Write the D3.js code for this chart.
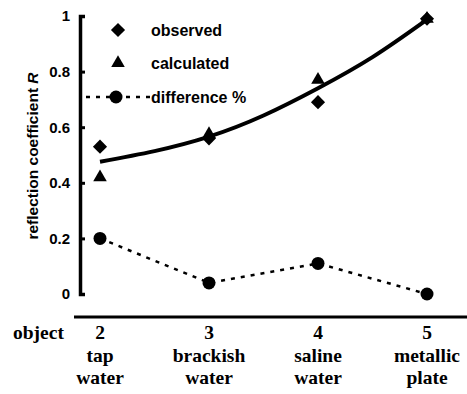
<!DOCTYPE html>
<html>
<head>
<meta charset="utf-8">
<script src="https://cdn.jsdelivr.net/npm/d3@7"></script>
<style>
  html, body { margin: 0; padding: 0; background: #fff; }
  svg { display: block; }
</style>
</head>
<body>
<svg id="chart" width="467" height="394"></svg>
<script>
// ---- data ----
const objects = [2, 3, 4, 5];
const nameLine1 = ["tap", "brackish", "saline", "metallic"];
const nameLine2 = ["water", "water", "water", "plate"];
const observed = [0.53, 0.56, 0.69, 0.99];
const calculated = [0.42, 0.575, 0.77, 0.99];
const difference = [0.20, 0.04, 0.11, 0.00];
const fitX = [2, 2.5, 3, 3.5, 4, 4.5, 5];
const fitY = [0.476, 0.514, 0.566, 0.642, 0.740, 0.852, 0.987];
const yTicks = [0, 0.2, 0.4, 0.6, 0.8, 1];
const yTickLabels = ["0", "0.2", "0.4", "0.6", "0.8", "1"];
const legendLabels = ["observed", "calculated", "difference %"];

// ---- setup ----
const svg = d3.select("#chart");
const sans = "'Liberation Sans', Arial, Helvetica, sans-serif";
const serif = "'Liberation Serif', 'Times New Roman', serif";

const x = d3.scaleLinear().domain([2, 5]).range([100, 427]);
const y = d3.scaleLinear().domain([0, 1]).range([294, 16]);
const axisX = 80;

// y axis
const yAxis = d3.axisLeft(y)
  .tickValues(yTicks)
  .tickFormat((d, i) => yTickLabels[i])
  .tickSize(-5)
  .tickSizeOuter(-5)
  .tickPadding(10);
const gY = svg.append("g").attr("transform", `translate(${axisX},0)`).call(yAxis);
gY.select(".domain").attr("stroke", "#000").attr("stroke-width", 3.5).attr("fill", "none");
gY.selectAll(".tick line").attr("stroke", "#000").attr("stroke-width", 3);
gY.selectAll(".tick text")
  .attr("font-family", sans).attr("font-weight", "bold").attr("font-size", 15)
  .attr("fill", "#000");

// y axis label
const yl = svg.append("text")
  .attr("transform", `translate(38,156) rotate(-90)`)
  .attr("text-anchor", "middle")
  .attr("font-family", sans).attr("font-weight", "bold").attr("font-size", 15.5)
  .attr("fill", "#000");
yl.append("tspan").text("reflection coefficient ");
yl.append("tspan").attr("font-style", "italic").text("R");

// bottom rule
svg.append("line")
  .attr("x1", 74).attr("x2", 467).attr("y1", 317).attr("y2", 317)
  .attr("stroke", "#000").attr("stroke-width", 3);

// bottom labels
svg.append("text").attr("x", 13).attr("y", 339)
  .attr("font-family", serif).attr("font-weight", "bold").attr("font-size", 19.5)
  .text("object");
const bl = svg.append("g").attr("font-family", serif).attr("font-weight", "bold")
  .attr("font-size", 19.5).attr("text-anchor", "middle").attr("fill", "#000");
bl.selectAll("text.num").data(objects).join("text").attr("class", "num")
  .attr("x", d => x(d)).attr("y", 339).text(d => d);
bl.selectAll("text.n1").data(objects).join("text").attr("class", "n1")
  .attr("x", d => x(d)).attr("y", 362).text((d, i) => nameLine1[i]);
bl.selectAll("text.n2").data(objects).join("text").attr("class", "n2")
  .attr("x", d => x(d)).attr("y", 384).text((d, i) => nameLine2[i]);

// fit curve
const fit = fitX.map((v, i) => [v, fitY[i]]);
svg.append("path")
  .attr("d", d3.line().x(d => x(d[0])).y(d => y(d[1])).curve(d3.curveNatural)(fit))
  .attr("fill", "none").attr("stroke", "#000").attr("stroke-width", 4);

// difference dashed line
const diffPts = objects.map((v, i) => [v, difference[i]]);
svg.append("path")
  .attr("d", d3.line().x(d => x(d[0])).y(d => y(d[1]))(diffPts))
  .attr("fill", "none").attr("stroke", "#000").attr("stroke-width", 2.5)
  .attr("stroke-dasharray", "4,6");

const diamond = d3.symbol().type(d3.symbolSquare).size(100);
const tri = d3.symbol().type(d3.symbolTriangle).size(80);

// observed diamonds
svg.selectAll("path.obs").data(objects).join("path").attr("class", "obs")
  .attr("d", diamond())
  .attr("transform", (d, i) => `translate(${x(d)},${y(observed[i])}) rotate(45)`)
  .attr("fill", "#000");
// calculated triangles
svg.selectAll("path.calc").data(objects).join("path").attr("class", "calc")
  .attr("d", tri())
  .attr("transform", (d, i) => `translate(${x(d)},${y(calculated[i])})`)
  .attr("fill", "#000");
// difference circles
svg.selectAll("circle.diff").data(objects).join("circle").attr("class", "diff")
  .attr("cx", d => x(d)).attr("cy", (d, i) => y(difference[i])).attr("r", 6.5)
  .attr("fill", "#000");

// legend
const lg = svg.append("g");
const legY = [30, 63, 97];
lg.append("path").attr("d", diamond()).attr("transform", `translate(118,${legY[0]}) rotate(45)`);
lg.append("path").attr("d", tri()).attr("transform", `translate(118,${legY[1]})`);
lg.append("line").attr("x1", 86).attr("x2", 150).attr("y1", legY[2]).attr("y2", legY[2])
  .attr("stroke", "#000").attr("stroke-width", 2.5).attr("stroke-dasharray", "4,6");
lg.append("circle").attr("cx", 116).attr("cy", legY[2]).attr("r", 6.5);
lg.selectAll("text").data(legendLabels).join("text")
  .attr("x", 151).attr("y", (d, i) => legY[i] + 5.5)
  .attr("font-family", sans).attr("font-weight", "bold").attr("font-size", 16)
  .text(d => d);
</script>
</body>
</html>
